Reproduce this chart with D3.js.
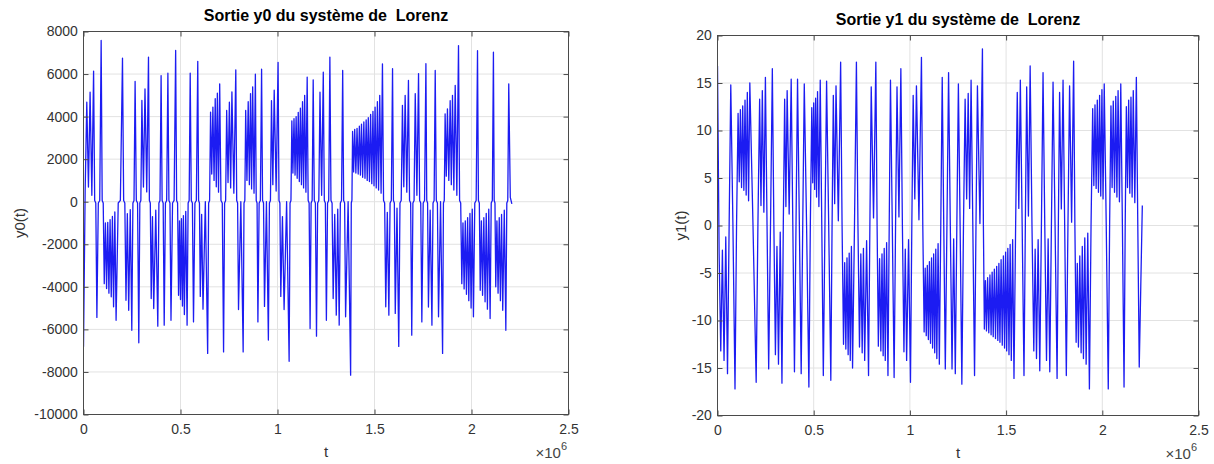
<!DOCTYPE html>
<html>
<head>
<meta charset="utf-8">
<script src="https://cdn.jsdelivr.net/npm/d3@7"></script>
<style>
  html, body { margin: 0; padding: 0; background: #fff; }
  svg { display: block; font-family: "Liberation Sans", Arial, Helvetica, sans-serif; }
</style>
</head>
<body>
<svg id="fig" width="1214" height="464"></svg>
<script>
// Times (x 1e6) of the successive spikes of the Lorenz outputs, shared by y0 and y1
const spikeTime = [
  0.000, 0.017, 0.034, 0.052, 0.069, 0.091,
  0.107, 0.119, 0.131, 0.143, 0.155, 0.168, 0.201,
  0.219, 0.233, 0.249, 0.266, 0.285,
  0.301, 0.317, 0.335, 0.349, 0.362, 0.383,
  0.400, 0.416, 0.435, 0.451, 0.475,
  0.490, 0.500, 0.510, 0.520, 0.534, 0.550, 0.567, 0.589,
  0.602, 0.616, 0.640,
  0.655, 0.667, 0.679, 0.690, 0.702, 0.722,
  0.738, 0.752, 0.765, 0.785, 0.799, 0.823,
  0.836, 0.849, 0.861, 0.872, 0.886, 0.899, 0.918, 0.933, 0.953,
  0.969, 0.983, 1.003, 1.017, 1.034, 1.060,
  1.074, 1.085, 1.096, 1.107, 1.118, 1.129, 1.140, 1.153,
  1.168, 1.184, 1.201, 1.219, 1.236, 1.252, 1.270,
  1.287, 1.303, 1.318, 1.336, 1.351, 1.377,
  1.387, 1.398, 1.410, 1.422, 1.433, 1.445, 1.457, 1.468, 1.480, 1.492, 1.503, 1.515, 1.527,
  1.541, 1.558, 1.574, 1.593, 1.607, 1.625,
  1.644, 1.658, 1.675, 1.692, 1.710, 1.727, 1.744, 1.765, 1.778, 1.796, 1.813, 1.830, 1.851,
  1.864, 1.876, 1.890, 1.902, 1.916, 1.933,
  1.950, 1.962, 1.974, 1.986, 1.998, 2.010, 2.031,
  2.045, 2.057, 2.070, 2.082, 2.096, 2.113,
  2.125, 2.137, 2.149, 2.161, 2.177, 2.192, 2.208
];

// Output y0: value at each spike
const y0Spike = [
  -6820, 4680, 5150, 6140, -5440, 7580,
  -3850, -4080, -4300, -4470, -4940, -5570, 6750,
  -4630, -5100, -6040, 5650, -6630,
  4760, 5300, 6800, -4550, -5020, -5850,
  5930, -5800, 6040, -5570, 7110,
  -4400, -4600, -4900, -5300, -5800, 6040, -5650, 6600,
  -4450, -5050, -7130,
  4210, 4450, 4840, 5100, 5540, -7060,
  4290, 4680, 5160, 6200, -5070, -7060,
  4290, 4700, 5080, 5400, 6000, -5650, 6230, -4920, -6500,
  4750, 5240, 6550, -4450, -5070, -7500,
  3800, 3900, 4000, 4200, 4400, 4700, 5000, 5860,
  -5960, 5730, -6320, 5150, 6090, -5570, 6800,
  -4550, -5330, -5800, 6170, -5410, -8150,
  3300, 3400, 3450, 3550, 3650, 3750, 3850, 3950, 4100, 4250, 4450, 4700, 5000,
  6480, -4940, -5330, 6250, -5250, -6800,
  4530, 5000, 5700, -6270, 5080, 6020, -5650, 6490, -4950, -5800, 6170, -5410, -7130,
  4130, 4360, 4750, 5000, 5470, 7340,
  -3850, -4100, -4350, -4650, -5000, -5410, 7100,
  -4160, -4400, -4700, -5050, -5490, 7030,
  -4000, -4300, -4650, -5100, -6040, 5540, -100
];

// Output y0: level reached between a spike and the next one
const y0Between = [
  500, 690, 300, 0, 0, 0,
  -1000, -970, -840, -690, -480, 0, 0,
  -560, -370, 0, 0, 0,
  690, 460, 0, -700, -400, 0,
  0, 0, 0, 0, 0,
  -900, -800, -650, -450, 0, 0, 0, 0,
  -600, 0, 0,
  1300, 1000, 700, 450, 0, 0,
  900, 650, 400, 0, 0, 0,
  1000, 800, 600, 400, 0, 0, 0, 0, 0,
  800, 500, 0, -700, 0, 0,
  1350, 1250, 1100, 950, 800, 650, 450, 0,
  0, 0, 0, 300, 0, 0, 0,
  -600, -350, 0, 0, 0, 0,
  1400, 1350, 1300, 1250, 1150, 1100, 1000, 950, 850, 750, 650, 550, 400,
  0, -500, 0, 0, -300, 0,
  700, 450, 0, 0, 300, 0, 0, 0, -400, 0, 0, 0, 0,
  1200, 1000, 800, 550, 300, 0,
  -1000, -900, -750, -550, -350, 0, 0,
  -900, -750, -550, -350, 0, 0,
  -900, -750, -600, -400, 0, 200
];

// Output y1: value at each spike
const y1Spike = [
  16.8, -13.2, -14.2, -15.6, 14.8, -17.2,
  11.8, 12.2, 12.6, 13.2, 14.0, 15.0, -16.5,
  13.3, 14.2, 15.6, -15.1, 16.5,
  -13.6, -14.6, -16.6, 13.3, 14.2, 15.4,
  -15.4, 15.4, -15.6, 14.9, -17.0,
  12.4, 12.9, 13.4, 14.1, 15.3, -15.8, 15.2, -16.3,
  13.7, 14.7, 17.2,
  -12.5, -13.0, -13.6, -14.2, -15.0, 17.2,
  -12.8, -13.4, -14.2, -15.8, 14.6, 17.2,
  -12.7, -13.2, -13.7, -14.2, -15.8, 15.3, -16.0, 14.6, 16.5,
  -13.3, -14.2, -16.5, 13.7, 14.7, 17.7,
  -11.2, -11.6, -12.0, -12.4, -12.9, -13.4, -14.0, -14.6,
  15.6, -15.1, 16.1, -15.1, -15.6, 14.9, -16.7,
  13.3, 13.9, 15.3, -15.8, 14.7, 18.6,
  -10.9, -11.1, -11.3, -11.5, -11.7, -11.9, -12.1, -12.3, -12.6, -12.9, -13.2, -13.6, -14.2,
  -16.1, 14.0, 15.3, -15.8, 14.6, 16.8,
  -13.2, -14.0, -15.3, 16.1, -14.2, -15.4, 15.1, -16.1, 14.0, 15.3, -15.8, 14.7, 17.3,
  -12.3, -12.8, -13.4, -14.0, -14.6, -17.2,
  12.3, 12.7, 13.2, 13.7, 14.3, 14.9, -17.2,
  12.6, 13.1, 13.6, 14.2, 14.9, -17.0,
  12.5, 13.2, 13.5, 14.2, 15.6, -14.9, 2.1
];

// Output y1: level reached between a spike and the next one
const y1Between = [
  -3.0, -2.6, -1.2, 0, 0.3, 0,
  4.6, 4.0, 3.7, 3.2, 2.6, 0, 0,
  2.1, 1.4, 0, 0, 0,
  -2.2, -0.7, 0, 2.0, 1.2, 0,
  0, 0, 0, 0, 0,
  4.5, 3.8, 3.0, 2.0, 0, 0, 0, 0,
  2.3, 0.5, 0,
  -3.9, -3.4, -2.9, -2.2, 0, 0,
  -3.0, -2.4, -1.6, 0, 0.8, 0,
  -3.5, -3.0, -2.4, -1.8, 0, 0, 0, 0.9, 0,
  -2.5, -1.5, 0, 2.8, 0.6, 0,
  -4.5, -4.2, -3.8, -3.4, -3.0, -2.5, -1.9, 0,
  0, 0, 0, -1.4, 0, 0, 0,
  2.8, 1.8, 0, 0, 0.2, 0,
  -5.8, -5.5, -5.2, -4.9, -4.6, -4.3, -4.0, -3.6, -3.2, -2.8, -2.4, -2.0, -1.5,
  0, 1.8, 0, 0, 1.0, 0,
  -2.5, -1.5, 0, 0, -1.4, 0, 0, 0, 1.75, 0, 0, 0.35, 0,
  -4.0, -3.2, -2.2, -1.3, -0.8, 0,
  4.2, 3.9, 3.5, 3.1, 2.8, 0, 0,
  4.0, 3.5, 3.0, 2.5, 0, 0,
  4.0, 3.4, 3.0, 2.4, 0, -6.4
];

// Axis ticks
const tTicks = [0, 0.5, 1, 1.5, 2, 2.5];
const y0Ticks = [-10000, -8000, -6000, -4000, -2000, 0, 2000, 4000, 6000, 8000];
const y1Ticks = [-20, -15, -10, -5, 0, 5, 10, 15, 20];

const svg = d3.select("#fig");

// Turns spikes + in-between levels into a polyline; the slow pass through zero
// between two lobes is drawn as a short, flatter step.
function tracePoints(spikes, between, stepHalf, stepAmp) {
  const pts = [];
  for (let i = 0; i < spikeTime.length; i++) {
    const t = spikeTime[i];
    pts.push([t, spikes[i]]);
    if (i === spikeTime.length - 1) break;
    const t2 = spikeTime[i + 1];
    const tm = (t + t2) / 2;
    const b = between[i];
    const s1 = Math.sign(spikes[i]), s2 = Math.sign(spikes[i + 1]);
    if (stepHalf > 0 && b === 0 && s1 !== s2) {
      const h = Math.min(stepHalf, (t2 - t) / 6);
      pts.push([tm - h, s1 * stepAmp], [tm + h, s2 * stepAmp]);
    } else {
      pts.push([tm, b]);
    }
  }
  return pts;
}

function drawPanel(opts) {
  const { left, right, top, bottom, yDomain, yTicks, title, titleY, yLabel, yLabelX, points, clipId } = opts;
  const x = d3.scaleLinear().domain([0, 2.5]).range([left, right]);
  const y = d3.scaleLinear().domain(yDomain).range([bottom, top]);
  const g = svg.append("g");

  // grid
  g.append("g").selectAll("line").data(tTicks.slice(1, -1)).join("line")
    .attr("x1", d => x(d)).attr("x2", d => x(d))
    .attr("y1", top).attr("y2", bottom)
    .attr("stroke", "#e2e2e2").attr("stroke-width", 1);
  g.append("g").selectAll("line").data(yTicks.slice(1, -1)).join("line")
    .attr("x1", left).attr("x2", right)
    .attr("y1", d => y(d)).attr("y2", d => y(d))
    .attr("stroke", "#e2e2e2").attr("stroke-width", 1);

  // signal
  g.append("clipPath").attr("id", clipId).append("rect")
    .attr("x", left).attr("y", top).attr("width", right - left).attr("height", bottom - top);
  const line = d3.line().x(d => x(d[0])).y(d => y(d[1]));
  g.append("path").datum(points)
    .attr("clip-path", `url(#${clipId})`)
    .attr("d", line)
    .attr("fill", "none")
    .attr("stroke", "#1c1cf2")
    .attr("stroke-width", 1.3)
    .attr("stroke-linejoin", "round");

  // axes (MATLAB-like inward ticks on all four sides)
  const axColor = "#4a4a4a";
  const styleAxis = sel => {
    sel.select(".domain").remove();
    sel.selectAll(".tick line").attr("stroke", axColor);
    sel.selectAll(".tick text").attr("fill", "#333").style("font-size", "14px")
      .style("font-family", "\"Liberation Sans\", Arial, Helvetica, sans-serif");
  };
  g.append("g").attr("transform", `translate(0,${bottom})`)
    .call(d3.axisBottom(x).tickValues(tTicks).tickFormat(d => String(d))
      .tickSizeInner(-5).tickSizeOuter(0).tickPadding(9.8))
    .call(styleAxis);
  g.append("g").attr("transform", `translate(0,${top})`)
    .call(d3.axisTop(x).tickValues(tTicks).tickFormat("").tickSizeInner(-5).tickSizeOuter(0))
    .call(styleAxis);
  g.append("g").attr("transform", `translate(${left},0)`)
    .call(d3.axisLeft(y).tickValues(yTicks).tickFormat(d => String(d))
      .tickSizeInner(-5).tickSizeOuter(0).tickPadding(5.6))
    .call(styleAxis);
  g.append("g").attr("transform", `translate(${right},0)`)
    .call(d3.axisRight(y).tickValues(yTicks).tickFormat("").tickSizeInner(-5).tickSizeOuter(0))
    .call(styleAxis);

  g.append("rect")
    .attr("x", left).attr("y", top).attr("width", right - left).attr("height", bottom - top)
    .attr("fill", "none").attr("stroke", axColor).attr("stroke-width", 1);

  // title
  g.append("text")
    .attr("x", (left + right) / 2).attr("y", titleY)
    .attr("text-anchor", "middle")
    .attr("fill", "#000").style("font-size", "16px").style("font-weight", "bold")
    .style("white-space", "pre")
    .text(title);

  // axis labels
  g.append("text")
    .attr("x", (left + right) / 2).attr("y", bottom + 42)
    .attr("text-anchor", "middle").attr("fill", "#333").style("font-size", "15px")
    .text("t");
  g.append("text")
    .attr("transform", `translate(${yLabelX},${(top + bottom) / 2}) rotate(-90)`)
    .attr("text-anchor", "middle").attr("fill", "#333").style("font-size", "15px")
    .text(yLabel);

  // exponent of the t axis
  const ex = g.append("text")
    .attr("x", right - 1.5).attr("y", bottom + 43)
    .attr("text-anchor", "end").attr("fill", "#444").style("font-size", "15px");
  ex.append("tspan").text("\u00d710");
  ex.append("tspan").attr("dy", -8).style("font-size", "11px").text("6");
}

drawPanel({
  left: 83.5, right: 568.5, top: 31.5, bottom: 414.5,
  yDomain: [-10000, 8000], yTicks: y0Ticks,
  title: "Sortie y0 du syst\u00e8me de  Lorenz", titleY: 21,
  yLabel: "y0(t)", yLabelX: 25,
  points: tracePoints(y0Spike, y0Between, 0.006, 60),
  clipId: "clip-y0"
});

drawPanel({
  left: 717.5, right: 1198.5, top: 35.5, bottom: 415.5,
  yDomain: [-20, 20], yTicks: y1Ticks,
  title: "Sortie y1 du syst\u00e8me de  Lorenz", titleY: 25,
  yLabel: "y1(t)", yLabelX: 686,
  points: tracePoints(y1Spike, y1Between, 0, 0),
  clipId: "clip-y1"
});
</script>
</body>
</html>
